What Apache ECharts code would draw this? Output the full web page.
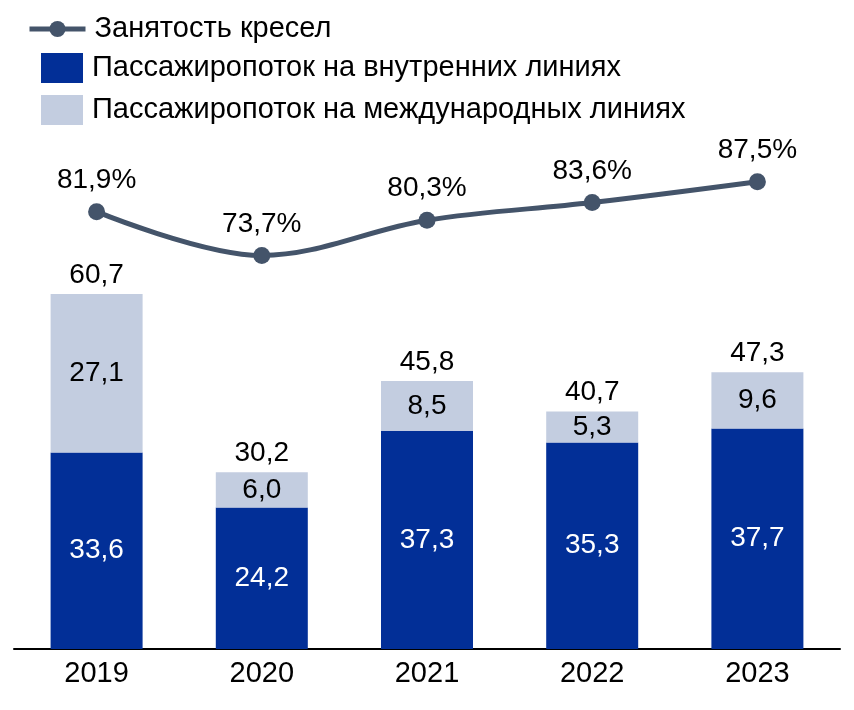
<!DOCTYPE html>
<html>
<head>
    <meta charset="utf-8" />
    <title>Passengers</title>
    <style>
        html, body { margin: 0; padding: 0; background: #fff; }
        #main { width: 854px; height: 710px; }
    </style>
</head>
<body>
    <div id="main"></div>
    <script src="https://cdn.jsdelivr.net/npm/echarts@6/dist/echarts.min.js"></script>
    <script type="text/javascript">
        var years = ['2019', '2020', '2021', '2022', '2023'];
        var domestic = [33.6, 24.2, 37.3, 35.3, 37.7];
        var international = [27.1, 6.0, 8.5, 5.3, 9.6];
        var totals = [60.7, 30.2, 45.8, 40.7, 47.3];
        var loadFactor = [81.9, 73.7, 80.3, 83.6, 87.5];

        var darkBlue = '#022f97';
        var lightBlue = '#c3cde0';
        var lineColor = '#44546a';
        var font = 'Liberation Sans, Arial, sans-serif';

        function comma(v) {
            return Number(v).toFixed(1).replace('.', ',');
        }

        var myChart = echarts.init(document.getElementById('main'));

        var option = {
            animation: false,
            textStyle: { fontFamily: font },
            legend: [
                {
                    data: ['Занятость кресел'],
                    left: 27,
                    top: 14,
                    padding: 0,
                    itemWidth: 56,
                    itemHeight: 20,
                    lineStyle: { width: 5 },
                    textStyle: { fontSize: 29, lineHeight: 30, color: '#000', fontFamily: font, padding: [0, 0, 0, 4] }
                },
                {
                    data: ['Пассажиропоток на внутренних линиях', 'Пассажиропоток на международных линиях'],
                    orient: 'vertical',
                    left: 41,
                    top: 53,
                    padding: 0,
                    itemWidth: 42,
                    itemHeight: 30,
                    itemGap: 12,
                    icon: 'rect',
                    textStyle: { fontSize: 29, lineHeight: 30, color: '#000', fontFamily: font, padding: [0, 0, 0, 4] }
                }
            ],
            grid: {
                left: 14,
                right: 14,
                top: 64,
                bottom: 61
            },
            xAxis: {
                type: 'category',
                data: years,
                axisLine: { lineStyle: { color: '#000', width: 2 } },
                axisTick: { show: false },
                axisLabel: { fontSize: 29, color: '#000', fontFamily: font, margin: 10 }
            },
            yAxis: [
                {
                    type: 'value',
                    min: 0,
                    max: 100,
                    show: false,
                    splitLine: { show: false }
                },
                {
                    type: 'value',
                    min: 0,
                    max: 109.55,
                    show: false,
                    splitLine: { show: false }
                }
            ],
            series: [
                {
                    name: 'Пассажиропоток на внутренних линиях',
                    type: 'bar',
                    stack: 'pax',
                    data: domestic,
                    barWidth: 92,
                    itemStyle: { color: darkBlue },
                    label: {
                        show: true,
                        position: 'inside',
                        color: '#fff',
                        fontSize: 28,
                        fontFamily: font,
                        formatter: function (p) { return comma(p.value); }
                    }
                },
                {
                    name: 'Пассажиропоток на международных линиях',
                    type: 'bar',
                    stack: 'pax',
                    data: international,
                    barWidth: 92,
                    itemStyle: { color: lightBlue },
                    label: {
                        show: true,
                        position: 'inside',
                        color: '#000',
                        fontSize: 28,
                        fontFamily: font,
                        formatter: function (p) { return comma(p.value); }
                    }
                },
                {
                    // totals above the stacks
                    name: 'total',
                    type: 'bar',
                    data: totals,
                    barWidth: 92,
                    barGap: '-100%',
                    itemStyle: { color: 'rgba(0,0,0,0)' },
                    silent: true,
                    z: 1,
                    label: {
                        show: true,
                        position: 'top',
                        distance: 5,
                        color: '#000',
                        fontSize: 28,
                        fontFamily: font,
                        formatter: function (p) { return comma(p.value); }
                    }
                },
                {
                    name: 'Занятость кресел',
                    type: 'line',
                    yAxisIndex: 1,
                    data: loadFactor,
                    smooth: 0.35,
                    symbol: 'circle',
                    symbolSize: 17,
                    z: 5,
                    lineStyle: { color: lineColor, width: 5 },
                    itemStyle: { color: lineColor },
                    label: {
                        show: true,
                        position: 'top',
                        distance: 9,
                        color: '#000',
                        fontSize: 28,
                        fontFamily: font,
                        formatter: function (p) { return comma(p.value) + '%'; }
                    }
                }
            ]
        };

        myChart.setOption(option);
    </script>
</body>
</html>
